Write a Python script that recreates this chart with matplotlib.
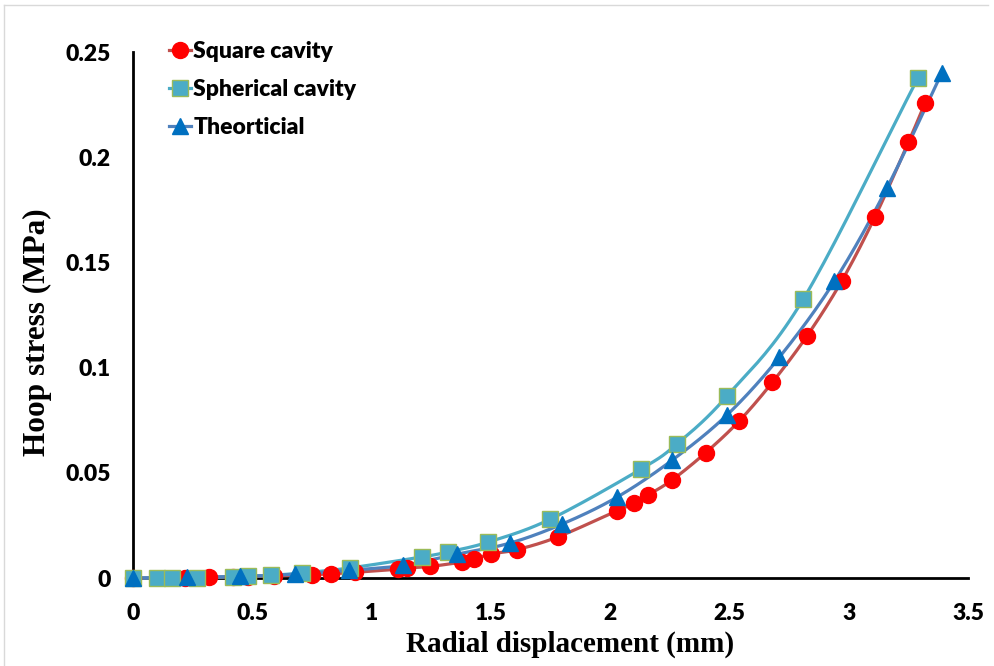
import numpy as np
import matplotlib
matplotlib.use("Agg")
import matplotlib.pyplot as plt
from matplotlib.lines import Line2D

# ---------------- data ----------------
square_x = [0.0, 0.22, 0.32, 0.42, 0.48, 0.59, 0.75, 0.83, 0.93, 1.11, 1.15, 1.245,
            1.38, 1.43, 1.50, 1.61, 1.78, 2.03, 2.10, 2.16, 2.26, 2.40, 2.54, 2.68,
            2.825, 2.97, 3.11, 3.25, 3.32]
square_y = [0.0, 0.0, 0.0003, 0.0005, 0.0007, 0.001, 0.0016, 0.002, 0.0027, 0.0042,
            0.0048, 0.0055, 0.0076, 0.009, 0.0114, 0.0135, 0.0195, 0.032, 0.0355,
            0.0395, 0.0466, 0.0595, 0.0745, 0.093, 0.115, 0.141, 0.1716, 0.207, 0.2257]

spher_x = [0.0, 0.10, 0.165, 0.27, 0.42, 0.48, 0.58, 0.71, 0.91, 1.21, 1.32, 1.49,
           1.75, 2.13, 2.28, 2.49, 2.81, 3.29]
spher_y = [0.0, 0.0, 0.0, 0.0002, 0.0006, 0.0008, 0.0013, 0.0024, 0.0048, 0.010,
           0.0124, 0.0171, 0.028, 0.0518, 0.0637, 0.0865, 0.1326, 0.2376]

theo_x = [0.0, 0.226, 0.45, 0.68, 0.905, 1.13, 1.36, 1.58, 1.80, 2.03, 2.26, 2.49,
          2.71, 2.94, 3.16, 3.39]
theo_y = [0.0, 0.0003, 0.0008, 0.0018, 0.0036, 0.006, 0.0114, 0.0166, 0.0257,
          0.0385, 0.056, 0.0775, 0.105, 0.141, 0.1853, 0.240]

series_names = ["Square cavity", "Spherical cavity", "Theorticial"]
x_ticks = [0, 0.5, 1, 1.5, 2, 2.5, 3, 3.5]
x_tick_labels = ["0", "0.5", "1", "1.5", "2", "2.5", "3", "3.5"]
y_ticks = [0, 0.05, 0.1, 0.15, 0.2, 0.25]
y_tick_labels = ["0", "0.05", "0.1", "0.15", "0.2", "0.25"]


def smooth(xs, ys, n=20):
    """Catmull-Rom curve through the given points (like Excel smoothed lines)."""
    P = np.column_stack([xs, ys]).astype(float)
    P = np.vstack([P[0] - (P[1] - P[0]), P, P[-1] + (P[-1] - P[-2])])
    out = []
    t = np.linspace(0, 1, n, endpoint=False)[:, None]
    for i in range(1, len(P) - 2):
        p0, p1, p2, p3 = P[i - 1], P[i], P[i + 1], P[i + 2]
        seg = 0.5 * ((2 * p1) + (-p0 + p2) * t + (2 * p0 - 5 * p1 + 4 * p2 - p3) * t ** 2
                     + (-p0 + 3 * p1 - 3 * p2 + p3) * t ** 3)
        out.append(seg)
    out.append(P[-2][None, :])
    out = np.vstack(out)
    return out[:, 0], out[:, 1]


fig = plt.figure(figsize=(9.94, 6.66), dpi=100)
ax = fig.add_axes([0.1338, 0.1321, 0.8400, 0.7898])

# figure border (light gray, top & left)
fig.add_artist(Line2D([0.004, 0.994], [0.9925, 0.9925], transform=fig.transFigure,
                      color="#D9D9D9", lw=1))
fig.add_artist(Line2D([0.004, 0.004], [0.0, 0.9925], transform=fig.transFigure,
                      color="#D9D9D9", lw=1))

c_sq_line, c_sq_mark = "#C0504D", "#FF0000"
c_sp_line, c_sp_mark, c_sp_edge = "#4BACC6", "#4BACC6", "#9BBB59"
c_th_line, c_th_mark = "#4F81BD", "#0070C0"

# lines
for xs, ys, col in [(square_x, square_y, c_sq_line), (spher_x, spher_y, c_sp_line),
                    (theo_x, theo_y, c_th_line)]:
    sx, sy = smooth(xs, ys)
    ax.plot(sx, sy, color=col, lw=2.3, zorder=2, solid_capstyle="round", clip_on=False)

# markers
ax.plot(square_x, square_y, ls="none", marker="o", ms=11.5, mfc=c_sq_mark, mec=c_sq_mark,
        zorder=3, clip_on=False)
ax.plot(spher_x, spher_y, ls="none", marker="s", ms=11, mfc=c_sp_mark, mec=c_sp_edge,
        mew=1, zorder=4, clip_on=False)
ax.plot(theo_x, theo_y, ls="none", marker="^", ms=11.5, mfc=c_th_mark, mec=c_th_mark,
        zorder=5, clip_on=False)

ax.set_xlim(0, 3.5)
ax.set_ylim(0, 0.25)
for s in ["top", "right"]:
    ax.spines[s].set_visible(False)
for s in ["left", "bottom"]:
    ax.spines[s].set_color("black")
    ax.spines[s].set_linewidth(2)
    ax.spines[s].set_zorder(1)

ax.set_xticks(x_ticks)
ax.set_xticklabels(x_tick_labels)
ax.set_yticks(y_ticks)
ax.set_yticklabels(y_tick_labels)
ax.tick_params(axis="both", length=0)
ax.tick_params(axis="x", pad=18)
ax.tick_params(axis="y", pad=16)
for lab in ax.get_xticklabels() + ax.get_yticklabels():
    lab.set_fontfamily("Lato")
    lab.set_fontweight("heavy")
    lab.set_fontsize(16.5)

ax.set_xlabel("Radial displacement (mm)", fontfamily="Liberation Serif", fontweight="bold",
              fontsize=21)
ax.set_ylabel("Hoop stress (MPa)", fontfamily="Liberation Serif", fontweight="bold",
              fontsize=22.5)
ax.xaxis.set_label_coords(0.523, -0.100)
ax.yaxis.set_label_coords(-0.097, 0.468)

handles = [
    Line2D([], [], color=c_sq_line, lw=2.3, marker="o", ms=11.5, mfc=c_sq_mark, mec=c_sq_mark),
    Line2D([], [], color=c_sp_line, lw=2.3, marker="s", ms=11, mfc=c_sp_mark, mec=c_sp_edge),
    Line2D([], [], color=c_th_line, lw=2.3, marker="^", ms=11.5, mfc=c_th_mark, mec=c_th_mark),
]
leg = ax.legend(handles, series_names, loc="upper left", bbox_to_anchor=(0.158, 0.955),
                bbox_transform=fig.transFigure, frameon=False, handlelength=1.0,
                handletextpad=0.08, labelspacing=0.74, borderpad=0,
                prop={"family": "Lato", "weight": "heavy", "size": 16.5})

fig.savefig("out.png", dpi=100, facecolor="white")
